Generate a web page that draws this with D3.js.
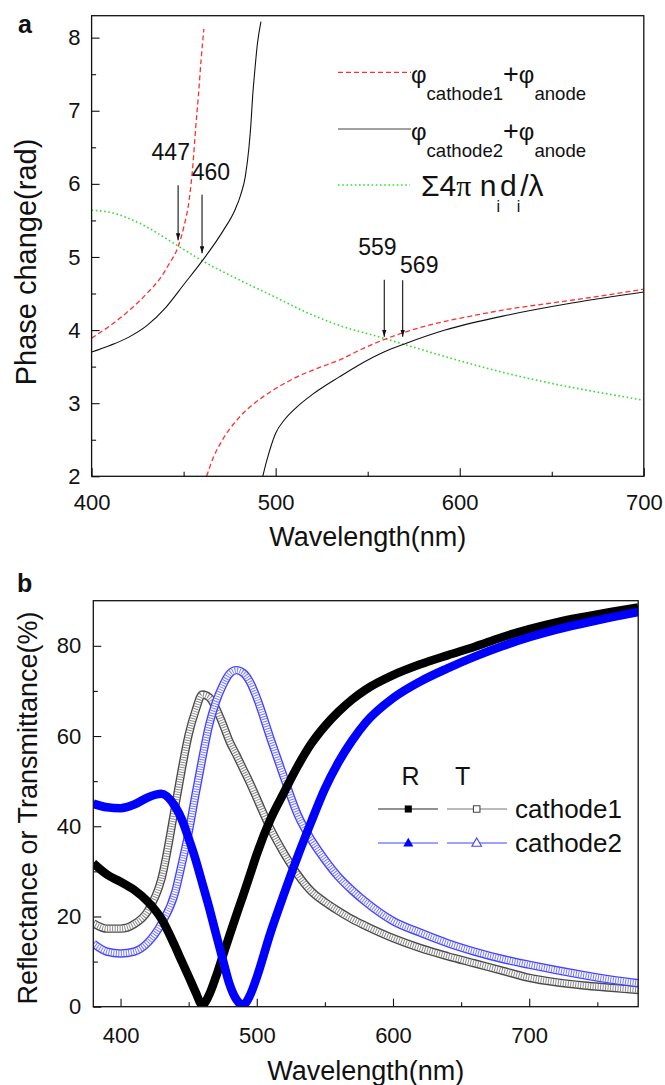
<!DOCTYPE html>
<html><head><meta charset="utf-8">
<script src="https://cdn.jsdelivr.net/npm/d3@7"></script>
<style>
body{margin:0;background:#fff}
svg{display:block}
text{font-family:"Liberation Sans",Arial,sans-serif;fill:#111}
</style></head><body>
<svg id="fig" width="665" height="1085"></svg>
<script>
// ---------------- Panel a data (phase change, rad) ----------------
const wlRed1 = [400,410,420,430,437,442,447,450,453,455,456.5,458,459.5,461];
const phRed1 = [3.89,4.06,4.26,4.50,4.70,4.90,5.14,5.40,5.78,6.25,6.75,7.2,7.7,8.12];
const wlRed2 = [462.5,466,470,480,488.5,500,511.6,523,534.6,546,558.8,570,580.7,592,603.7,625,649.8,675,700];
const phRed2 = [2.0,2.25,2.45,2.8,3.0,3.2,3.36,3.48,3.59,3.73,3.87,3.97,4.05,4.12,4.18,4.28,4.37,4.46,4.56];
const wlBlk1 = [400,410,420,430,440,450,460.5,471.5,478,481,483.5,485.5,486.5,487.5,488.5,490,492];
const phBlk1 = [3.70,3.79,3.90,4.06,4.30,4.62,4.96,5.36,5.65,5.85,6.1,6.5,6.8,7.2,7.5,7.9,8.22];
const wlBlk2 = [493,495,500,505,511.6,520,534.6,545,558.8,571,592,627,661,700];
const phBlk2 = [2.0,2.2,2.59,2.78,2.95,3.12,3.36,3.52,3.70,3.82,4.0,4.21,4.37,4.52];
const wlGrn = [400,410,420,430,440,447,460.7,480,499,517,535,558.5,569,577,600,627,650,673,700];
const phGrn = [5.64,5.61,5.53,5.41,5.26,5.15,4.94,4.69,4.46,4.24,4.06,3.89,3.81,3.75,3.58,3.40,3.27,3.16,3.04];
// arrows (wavelength, from value, to value) and their labels
const arrowWl = [447,460,559,569];
const arrowFrom = [5.98,5.85,4.69,4.68];
const arrowTo = [5.23,5.05,3.91,3.91];
const arrowLabel = ["447","460","559","569"];
const arrowLabelWl = [443,464.8,555.3,578];
const arrowLabelVal = [6.33,6.05,5.03,4.78];
const xTicksA = [400,500,600,700];
const xMinorA = [450,550,650];
const yTicksA = [2,3,4,5,6,7,8];
const yMinorA = [2.5,3.5,4.5,5.5,6.5,7.5];

// ---------------- Panel b data (R / T, %) ----------------
const wlB = [380,390,400,410,420,430,440,445,450,455,460,465,470,475,480,485,490,495,500,510,520,530,540,550,560,570,580,600,620,640,660,680,700,720,740,760,780];
const R1 = [31.8,29.3,27.7,25.9,23.3,19.5,13.4,10.0,6.7,3.3,0.4,2.6,6.6,11.2,15.8,20.3,24.7,29.2,33.8,41.5,47.5,53.3,58.3,62.2,65.4,68.1,70.3,73.5,75.9,77.9,79.8,81.9,83.7,85.2,86.4,87.5,88.5];
const R2 = [45.0,44.2,44.0,44.8,46.4,47.2,44.4,41.5,37.3,32.7,27.4,22.0,16.2,10.5,5.0,1.6,0.4,2.5,6.5,16.3,25.0,33.3,41.0,48.3,54.2,59.0,63.0,68.4,72.1,75.0,77.6,79.9,81.9,83.6,85.0,86.3,87.5];
const T1 = [18.5,17.3,17.3,18.3,21.2,28.3,44.2,52.7,60.3,65.6,69.2,68.6,66.2,62.7,58.8,55.8,52.7,49.6,46.2,39.5,34.0,29.3,25.6,23.2,21.2,19.4,17.9,15.2,13.0,11.2,9.6,8.0,6.4,5.4,4.7,4.2,3.7];
const T2 = [14.0,12.2,11.8,12.2,14.2,18.4,25.3,31.7,38.7,47.0,55.0,62.4,67.5,71.2,73.8,74.6,74.0,72.0,68.5,59.5,50.8,42.6,37.0,32.6,28.8,25.8,23.2,19.0,16.4,14.1,12.2,10.6,9.3,8.1,7.0,6.0,5.2];
const xTicksB = [400,500,600,700];
const xMinorB = [450,550,650,750];
const yTicksB = [0,20,40,60,80];
const yMinorB = [10,30,50,70];

const FONT = '"Liberation Sans", Arial, sans-serif';
const svg = d3.select("#fig");
const defs = svg.append("defs");

defs.append("marker").attr("id","arrow").attr("markerUnits","userSpaceOnUse")
  .attr("markerWidth",8).attr("markerHeight",5).attr("refX",7).attr("refY",2.25).attr("orient","auto")
  .append("path").attr("d","M0,0 L7,2.25 L0,4.5 Z").attr("fill","#111");

function drawAxes(g, x, y, xt, xm, yt, ym, xPad, yPad) {
  const [y0] = y.range();
  const [x0] = x.range();
  const ax = g.append("g").attr("transform",`translate(0,${y0})`)
    .call(d3.axisBottom(x).tickValues(xt).tickSize(-8).tickSizeOuter(0).tickPadding(xPad).tickFormat(d3.format("d")));
  const axm = g.append("g").attr("transform",`translate(0,${y0})`)
    .call(d3.axisBottom(x).tickValues(xm).tickSize(-4.5).tickSizeOuter(0).tickFormat(""));
  const ay = g.append("g").attr("transform",`translate(${x0},0)`)
    .call(d3.axisLeft(y).tickValues(yt).tickSize(-8).tickSizeOuter(0).tickPadding(yPad).tickFormat(d3.format("d")));
  const aym = g.append("g").attr("transform",`translate(${x0},0)`)
    .call(d3.axisLeft(y).tickValues(ym).tickSize(-4.5).tickSizeOuter(0).tickFormat(""));
  [ax,axm,ay,aym].forEach(a => {
    a.select(".domain").remove();
    a.attr("font-family",FONT).attr("font-size",22);
    a.selectAll("line").attr("stroke","#111").attr("stroke-width",1.1);
    a.selectAll("text").attr("fill","#111");
  });
  const [xa0,xa1] = x.range(), [ya0,ya1] = y.range();
  g.append("rect").attr("x",xa0).attr("y",ya1).attr("width",xa1-xa0).attr("height",ya0-ya1)
    .attr("fill","none").attr("stroke","#111").attr("stroke-width",1.3);
}

// ================= Panel a =================
const xa = d3.scaleLinear().domain([400,700]).range([91.6,643.8]);
const ya = d3.scaleLinear().domain([2,8.3]).range([476.3,15.7]);
const ga = svg.append("g");
defs.append("clipPath").attr("id","clipA").append("rect")
  .attr("x",xa.range()[0]).attr("y",ya.range()[1]).attr("width",xa.range()[1]-xa.range()[0]).attr("height",ya.range()[0]-ya.range()[1]);

const lineA = d3.line().x(d=>xa(d[0])).y(d=>ya(d[1])).curve(d3.curveMonotoneX);
const plotA = ga.append("g").attr("clip-path","url(#clipA)");
const redStyle = p => p.attr("fill","none").attr("stroke","#ff3030").attr("stroke-width",1.3).attr("stroke-dasharray","5,3");
const blkStyle = p => p.attr("fill","none").attr("stroke","#111").attr("stroke-width",1.1);
const grnStyle = p => p.attr("fill","none").attr("stroke","#33dd33").attr("stroke-width",1.6).attr("stroke-dasharray","1.6,2.6");
plotA.append("path").attr("d",lineA(d3.zip(wlGrn,phGrn))).call(grnStyle);
plotA.append("path").attr("d",lineA(d3.zip(wlBlk1,phBlk1))).call(blkStyle);
plotA.append("path").attr("d",lineA(d3.zip(wlBlk2,phBlk2))).call(blkStyle);
plotA.append("path").attr("d",lineA(d3.zip(wlRed1,phRed1))).call(redStyle);
plotA.append("path").attr("d",lineA(d3.zip(wlRed2,phRed2))).call(redStyle);

drawAxes(ga, xa, ya, xTicksA, xMinorA, yTicksA, yMinorA, 18, 11);

// arrows
arrowWl.forEach((w,i) => {
  ga.append("line").attr("x1",xa(w)).attr("x2",xa(w)).attr("y1",ya(arrowFrom[i])).attr("y2",ya(arrowTo[i]))
    .attr("stroke","#111").attr("stroke-width",1.1).attr("marker-end","url(#arrow)");
  ga.append("text").attr("x",xa(arrowLabelWl[i])).attr("y",ya(arrowLabelVal[i]))
    .attr("text-anchor","middle").attr("font-size",23).text(arrowLabel[i]);
});

// legend a
const legA = ga.append("g");
legA.append("line").attr("x1",338).attr("x2",411).attr("y1",72.3).attr("y2",72.3).call(redStyle);
legA.append("line").attr("x1",338).attr("x2",411).attr("y1",129).attr("y2",129).attr("stroke","#444").attr("stroke-width",1.1);
legA.append("line").attr("x1",338).attr("x2",410).attr("y1",185).attr("y2",185).call(grnStyle);
function phiLabel(y, sub) {
  const t = legA.append("text").attr("x",411).attr("y",y).attr("font-size",24);
  t.append("tspan").text("φ");
  t.append("tspan").attr("font-size",18.6).attr("dy",17).text(sub);
  t.append("tspan").attr("font-size",27).attr("dy",-17).text("+");
  t.append("tspan").attr("font-size",24).text("φ");
  t.append("tspan").attr("font-size",18.6).attr("dy",17).text("anode");
}
phiLabel(83, "cathode1");
phiLabel(140, "cathode2");
{
  const t = legA.append("text").attr("x",421).attr("y",196).attr("font-size",30);
  t.append("tspan").text("Σ4");
  t.append("tspan").attr("font-family",'"Liberation Serif","Times New Roman",serif').text("π");
  t.append("tspan").text(" n");
  t.append("tspan").attr("font-size",16).attr("dy",16).text("i");
  t.append("tspan").attr("dy",-16).text("d");
  t.append("tspan").attr("font-size",16).attr("dy",16).text("i");
  t.append("tspan").attr("dy",-16).text("/λ");
}

// titles a
ga.append("text").attr("x",(xa.range()[0]+xa.range()[1])/2).attr("y",546).attr("text-anchor","middle")
  .attr("font-size",27).text("Wavelength(nm)");
ga.append("text").attr("transform","translate(36,262) rotate(-90)").attr("text-anchor","middle")
  .attr("font-size",29).text("Phase change(rad)");
ga.append("text").attr("x",18).attr("y",33).attr("font-size",25).attr("font-weight","bold").text("a");

// ================= Panel b =================
const xb = d3.scaleLinear().domain([380,780]).range([93.3,638.2]);
const yb = d3.scaleLinear().domain([0,90]).range([1006.7,600.7]);
const gb = svg.append("g");
defs.append("clipPath").attr("id","clipB").append("rect")
  .attr("x",xb.range()[0]).attr("y",yb.range()[1]).attr("width",xb.range()[1]-xb.range()[0]).attr("height",yb.range()[0]-yb.range()[1]);
const plotB = gb.append("g").attr("clip-path","url(#clipB)");
const lineB = vals => d3.line().x((d,i)=>xb(wlB[i])).y(d=>yb(d)).curve(d3.curveMonotoneX)(vals);

function openBand(vals, edge, hatch) {
  const d = lineB(vals);
  plotB.append("path").attr("d",d).attr("fill","none").attr("stroke",edge).attr("stroke-width",8.4).attr("stroke-linejoin","round");
  plotB.append("path").attr("d",d).attr("fill","none").attr("stroke","#fff").attr("stroke-width",5.6).attr("stroke-linejoin","round");
  plotB.append("path").attr("d",d).attr("fill","none").attr("stroke",hatch).attr("stroke-width",5.6).attr("stroke-dasharray","1,1.5");
}
function solidBand(vals, color) {
  plotB.append("path").attr("d",lineB(vals)).attr("fill","none").attr("stroke",color).attr("stroke-width",8.6).attr("stroke-linejoin","round");
}
openBand(T1, "#4a4a4a", "#8a8a8a");
openBand(T2, "#4444ff", "#7777ff");
solidBand(R1, "#000");
solidBand(R2, "#0000ff");

drawAxes(gb, xb, yb, xTicksB, xMinorB, yTicksB, yMinorB, 21, 12);

// legend b
const legB = gb.append("g");
legB.append("text").attr("x",401.5).attr("y",785).attr("font-size",25).text("R");
legB.append("text").attr("x",455).attr("y",785).attr("font-size",25).text("T");
legB.append("line").attr("x1",378).attr("x2",438).attr("y1",809).attr("y2",809).attr("stroke","#222").attr("stroke-width",1.1);
legB.append("line").attr("x1",447).attr("x2",507).attr("y1",809).attr("y2",809).attr("stroke","#777").attr("stroke-width",1.1);
legB.append("line").attr("x1",378).attr("x2",438).attr("y1",843).attr("y2",843).attr("stroke","#8080ff").attr("stroke-width",1.3);
legB.append("line").attr("x1",447).attr("x2",507).attr("y1",843).attr("y2",843).attr("stroke","#8080ff").attr("stroke-width",1.3);
legB.append("path").attr("d",d3.symbol(d3.symbolSquare,50)()).attr("transform","translate(408.3,809)").attr("fill","#000");
legB.append("path").attr("d",d3.symbol(d3.symbolSquare,42)()).attr("transform","translate(476.7,809)").attr("fill","#fff").attr("stroke","#444").attr("stroke-width",1.1);
legB.append("path").attr("d",d3.symbol(d3.symbolTriangle,44)()).attr("transform","translate(408.3,843.5)").attr("fill","#0000ff");
legB.append("path").attr("d",d3.symbol(d3.symbolTriangle,40)()).attr("transform","translate(476.7,843.5)").attr("fill","#fff").attr("stroke","#4444ff").attr("stroke-width",1.1);
legB.append("text").attr("x",515).attr("y",817.5).attr("font-size",26).text("cathode1");
legB.append("text").attr("x",515).attr("y",852).attr("font-size",26).text("cathode2");

// titles b
gb.append("text").attr("x",(xb.range()[0]+xb.range()[1])/2).attr("y",1080).attr("text-anchor","middle")
  .attr("font-size",27).text("Wavelength(nm)");
gb.append("text").attr("transform","translate(37,808) rotate(-90)").attr("text-anchor","middle")
  .attr("font-size",27).text("Reflectance or Transmittance(%)");
gb.append("text").attr("x",17).attr("y",591.5).attr("font-size",25).attr("font-weight","bold").text("b");
</script>
</body></html>
